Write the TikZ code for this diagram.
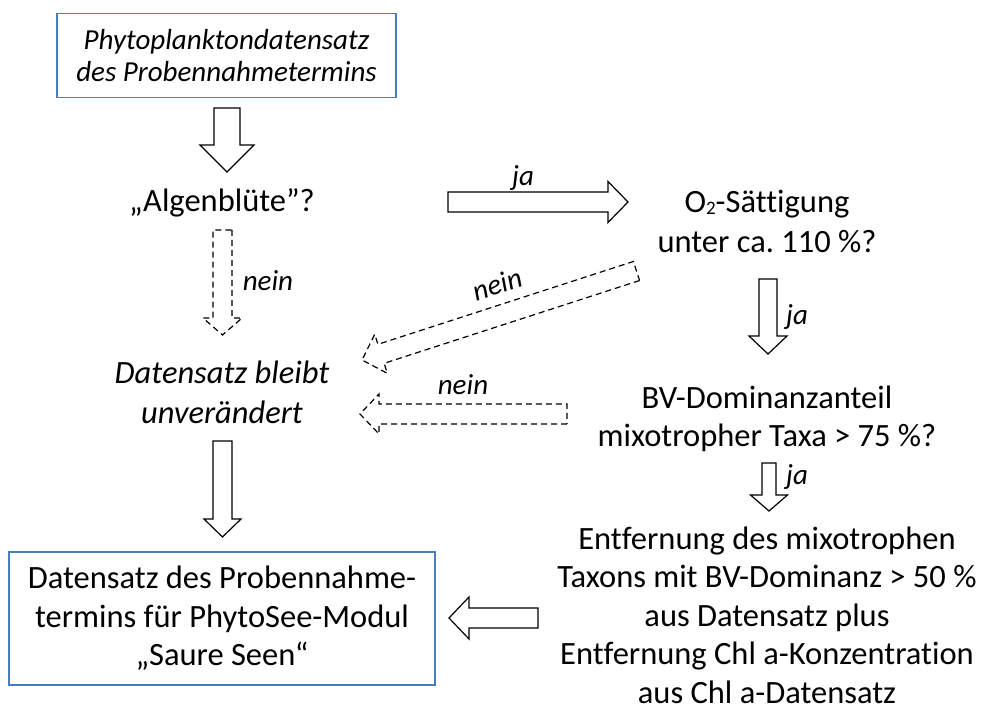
\documentclass[tikz,border=0pt]{standalone}
\usepackage{fontspec}
\setmainfont[Ligatures=NoCommon]{Carlito}
\usetikzlibrary{calc}

\definecolor{boxblue}{RGB}{74,126,187}

% block arrow: [options]{from}{to}{shaft half}{head half}{head length}
\newcommand{\blockarrow}[6][]{%
\coordinate (bah) at ($(#3)!#6!(#2)$);
\draw[#1] ($(#2)!#4!90:(#3)$) -- ($(bah)!#4!90:(#3)$) -- ($(bah)!#5!90:(#3)$)
 -- (#3) -- ($(bah)!#5!-90:(#3)$) -- ($(bah)!#4!-90:(#3)$) -- ($(#2)!#4!-90:(#3)$) -- cycle;}

\begin{document}
\begin{tikzpicture}
[x=1pt,y=-1pt,
txt/.style={align=center,inner sep=0pt,font=\fontsize{32.5}{39}\selectfont},
box/.style={draw=boxblue,line width=1.5pt,align=center,inner sep=0pt},
lbl/.style={inner sep=0pt,font=\fontsize{29}{32}\selectfont\itshape},
arr/.style={line width=1.2pt},
darr/.style={line width=1.2pt,dash pattern=on 6pt off 4pt}]
\useasboundingbox (0,0) rectangle (986,711);

\node[box,minimum width=339pt,minimum height=84pt,font=\fontsize{29}{32}\selectfont\itshape] (src) at (226.5,55.5) {Phytoplanktondatensatz\\des Probennahmetermins};
\node[txt] (bloom) at (222,203) {„Algenblüte”?};
\node[txt,font=\fontsize{32.5}{40}\selectfont] (o2) at (767,221) {O{\fontsize{19}{19}\selectfont\raisebox{-2pt}{2}}-Sättigung\\unter ca.\ 110 \%?};
\node[txt,font=\fontsize{32.5}{40}\selectfont\itshape] (keep) at (222,392) {Datensatz bleibt\\unverändert};
\node[txt,font=\fontsize{32.5}{38}\selectfont] (bv) at (767,419) {BV-Dominanzanteil\\mixotropher Taxa > 75 \%?};
\node[txt,font=\fontsize{32.5}{38.5}\selectfont] (rem) at (767,615) {Entfernung des mixotrophen\\Taxons mit BV-Dominanz > 50 \%\\aus Datensatz plus\\Entfernung Chl a-Konzentration\\aus Chl a-Datensatz};
\node[box,minimum width=426pt,minimum height=133pt,font=\fontsize{32.5}{38.5}\selectfont] (out) at (222,618.5) {Datensatz des Probennahme-\\termins für PhytoSee-Modul\\„Saure Seen“};

% arrow ends
\coordinate (a1) at (227,108);   \coordinate (b1) at (227,172);
\coordinate (a2) at (448,202);   \coordinate (b2) at (628,202);
\coordinate (a3) at (222.5,230); \coordinate (b3) at (222.5,335);
\coordinate (a4) at (636.5,271); \coordinate (b4) at (362,360);
\coordinate (a5) at (567,414);   \coordinate (b5) at (360,414);
\coordinate (a6) at (768,279);   \coordinate (b6) at (768,354);
\coordinate (a7) at (769,463);   \coordinate (b7) at (769,511);
\coordinate (a8) at (222.5,441); \coordinate (b8) at (222.5,537);
\coordinate (a9) at (538,618);   \coordinate (b9) at (449,618);

\blockarrow[arr]{a1}{b1}{13pt}{27pt}{27pt}
\blockarrow[arr]{a2}{b2}{10pt}{20.5pt}{20pt}
\blockarrow[darr]{a3}{b3}{9.5pt}{19.5pt}{17pt}
\blockarrow[darr]{a4}{b4}{10pt}{20.5pt}{20pt}
\blockarrow[darr]{a5}{b5}{10pt}{20pt}{19pt}
\blockarrow[arr]{a6}{b6}{9pt}{19pt}{18pt}
\blockarrow[arr]{a7}{b7}{7pt}{18.5pt}{16pt}
\blockarrow[arr]{a8}{b8}{9.5pt}{18.5pt}{18pt}
\blockarrow[arr]{a9}{b9}{10pt}{21pt}{20pt}

\node[lbl] (l2) at (523,178) {ja};
\node[lbl] (l3) at (268,281) {nein};
\node[lbl,rotate=18] (l4) at (497,284) {nein};
\node[lbl] (l5) at (463,385) {nein};
\node[lbl] (l6) at (797,317) {ja};
\node[lbl] (l7) at (797,477) {ja};
\end{tikzpicture}
\end{document}
